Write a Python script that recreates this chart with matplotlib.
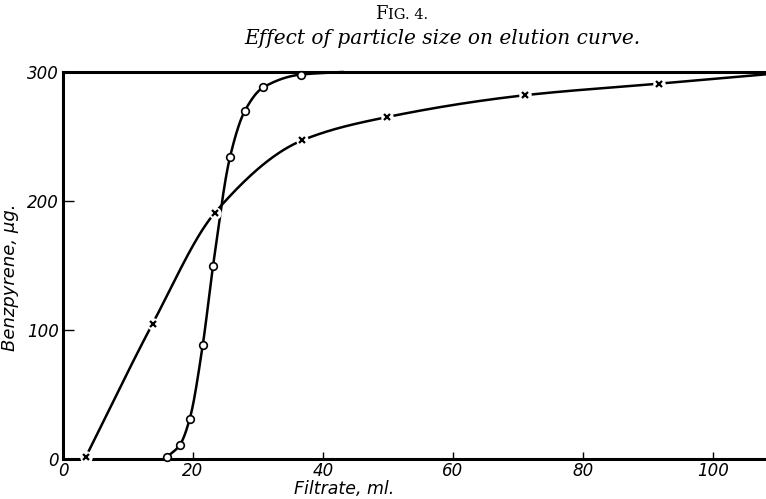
import numpy as np
import matplotlib
matplotlib.use("Agg")
import matplotlib.pyplot as plt

# fine particles (open circles)
fine_x = [16.0, 18.0, 19.5, 21.5, 23.1, 25.7, 28.0, 30.8, 36.6]
fine_y = [1.5, 11, 31, 88, 150, 234, 270, 288, 298]
# coarse particles (crosses)
coarse_x = [3.5, 13.8, 23.4, 36.8, 49.8, 71.1, 91.8]
coarse_y = [1.5, 105, 191, 247, 265, 282, 291]
# where the drawn curves run on past the last point
fine_tail = (43.0, 300)
coarse_tail = (110.0, 299)

x_ticks = [0, 20, 40, 60, 80, 100]
y_ticks = [0, 100, 200, 300]


def pchip(x, y, xs):
    # monotone cubic, just for drawing a smooth curve through the points
    x = np.asarray(x, float)
    y = np.asarray(y, float)
    h = np.diff(x)
    d = np.diff(y) / h
    m = np.zeros_like(y)
    for k in range(1, len(x) - 1):
        if d[k - 1] * d[k] > 0:
            w1 = 2 * h[k] + h[k - 1]
            w2 = h[k] + 2 * h[k - 1]
            m[k] = (w1 + w2) / (w1 / d[k - 1] + w2 / d[k])
    m[0] = d[0]
    m[-1] = d[-1]
    idx = np.clip(np.searchsorted(x, xs) - 1, 0, len(x) - 2)
    t = (xs - x[idx]) / h[idx]
    h00 = 2 * t**3 - 3 * t**2 + 1
    h10 = t**3 - 2 * t**2 + t
    h01 = -2 * t**3 + 3 * t**2
    h11 = t**3 - t**2
    return h00 * y[idx] + h10 * h[idx] * m[idx] + h01 * y[idx + 1] + h11 * h[idx] * m[idx + 1]


fig = plt.figure(figsize=(7.66, 4.99), dpi=100)
ax = fig.add_axes([63 / 766, 40 / 499, 703 / 766, 387 / 499])

lw = 1.8
fx = list(fine_x) + [fine_tail[0]]
fy = list(fine_y) + [fine_tail[1]]
xs = np.linspace(fx[0], fx[-1], 300)
ax.plot(xs, pchip(fx, fy, xs), color="black", lw=lw, clip_on=False, zorder=2)

cx = list(coarse_x) + [coarse_tail[0]]
cy = list(coarse_y) + [coarse_tail[1]]
xs = np.linspace(cx[0], cx[-1], 400)
ax.plot(xs, pchip(cx, cy, xs), color="black", lw=lw, zorder=2)

ax.plot(fine_x, fine_y, "o", ms=5.5, mfc="white", mec="black", mew=1.2, zorder=4, clip_on=False)
ax.plot(coarse_x, coarse_y, "o", ms=9, mfc="white", mec="none", zorder=3, clip_on=False)
ax.plot(coarse_x, coarse_y, "x", ms=5, mec="black", mew=1.6, zorder=4, clip_on=False)

ax.set_xlim(0, 108.2)
ax.set_ylim(0, 300)
ax.set_xticks(x_ticks)
ax.set_yticks(y_ticks)
ax.set_xticklabels([str(v) for v in x_ticks])
ax.set_yticklabels([str(v) for v in y_ticks])

tick_font = dict(family="DejaVu Sans", style="italic", size=12)
for lab in ax.get_xticklabels() + ax.get_yticklabels():
    lab.set_fontproperties(matplotlib.font_manager.FontProperties(**tick_font))
ax.tick_params(axis="x", direction="in", length=5, width=1, pad=2)
ax.tick_params(axis="y", direction="in", length=8, width=1, pad=3)

for side in ["left", "bottom", "top"]:
    ax.spines[side].set_linewidth(2.2)
ax.spines["right"].set_visible(False)

ax.set_xlabel("Filtrate, ml.", fontsize=12.5, style="italic", va="bottom")
ax.xaxis.set_label_coords(0.4, -0.1)
ax.set_ylabel("Benzpyrene, \u03bcg.", fontsize=13, style="italic", va="bottom")
ax.yaxis.set_label_coords(-0.062, 0.47)

# title, with small caps imitated by two sizes
fig.text(0.5065, 0.972, "F", family="DejaVu Serif", fontsize=13, ha="right", va="center")
fig.text(0.5065, 0.970, "IG. 4.", family="DejaVu Serif", fontsize=10.5, ha="left", va="center")
fig.text(0.578, 0.922, "Effect of particle size on elution curve.", family="DejaVu Serif",
         style="italic", fontsize=14.5, ha="center", va="center")

plt.savefig("out.png", dpi=100)
